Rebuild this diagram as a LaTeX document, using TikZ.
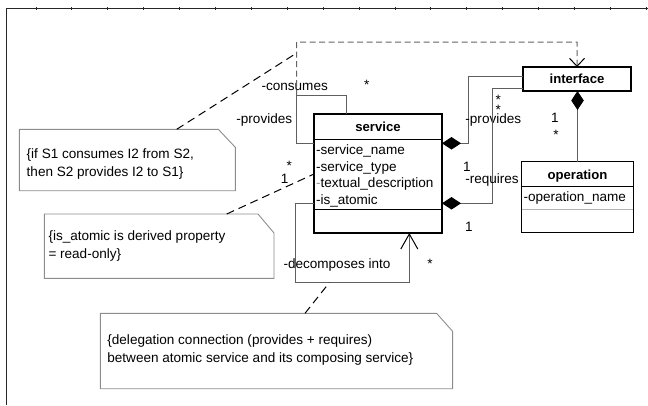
\documentclass[tikz,border=0pt]{standalone}
\usepackage{fontspec}
\setmainfont{Liberation Sans}
\usetikzlibrary{arrows.meta,calc}
\definecolor{lnk}{RGB}{95,95,95}
\definecolor{notec}{RGB}{140,140,140}
\definecolor{depc}{RGB}{100,100,100}
\begin{document}
\begin{tikzpicture}[x=1bp,y=-1bp,
  every node/.style={inner sep=0pt, outer sep=0pt, font=\fontsize{13.6}{18}\selectfont},
  classbox/.style={draw=black, line width=1.2bp, anchor=north west},
  hdr/.style={anchor=base, font=\fontsize{13.2}{16}\selectfont\bfseries},
  attr/.style={anchor=base west},
  lbl/.style={anchor=base},
  starlbl/.style={anchor=base, text height=7bp},
  notebox/.style={anchor=north west},
  noteline/.style={draw=notec, line width=0.9bp},
  notetext/.style={anchor=north west, align=left},
  assoc/.style={draw=lnk, line width=1bp},
  comp/.style={assoc, -{Diamond[length=19bp,width=12.5bp,color=black,fill=black]}},
  depend/.style={draw=depc, line width=1bp, dash pattern=on 6bp off 3.5bp, -{Straight Barb[length=8bp,width=15bp,color=black]}},
  anchorln/.style={draw=black, line width=1bp, dash pattern=on 8bp off 5bp},
]
\useasboundingbox (0,0) rectangle (648,405);

% frame
\draw[line width=1.6bp, black!85] (6.5,405) -- (6.5,8.5) -- (648,8.5);
\foreach \k in {1,...,18} \draw[line width=0.8bp, black!85] (35.9*\k,7) -- (35.9*\k,9.5);

% service class
\node[classbox, minimum width=128bp, minimum height=119bp] (service) at (314,114) {};
\node[hdr] (serviceT) at (378,131.5) {service};
\draw[line width=1.2bp] (service.west |- 0,139.3) -- (service.east |- 0,139.3);
\draw[line width=1.2bp] (service.west |- 0,209.3) -- (service.east |- 0,209.3);
\node[attr] (sa1) at (316,154.5) {-service\_name};
\node[attr] (sa2) at (316,171) {-service\_type};
\node[attr] (sa3) at (316,187.5) {{\color{black!40}-}textual\_description};
\node[attr] (sa4) at (316,204) {-is\_atomic};

% interface class
\node[classbox, minimum width=108bp, minimum height=24bp, font=\fontsize{13.2}{16}\selectfont\bfseries] (interface) at (523,67) {interface};

% operation class
\node[classbox, minimum width=111.6bp, minimum height=70.6bp] (operation) at (521.7,161.7) {};
\node[hdr] (operationT) at (577.5,179) {operation};
\draw[line width=1.2bp] (operation.west |- 0,186.7) -- (operation.east |- 0,186.7);
\draw[line width=0.8bp, black!30] (operation.west |- 0,209.3) -- (operation.east |- 0,209.3);
\node[attr] (oa1) at (523.5,201.5) {-operation\_name};

% composition interface - operation
\draw[comp] (operation.north) -- (operation.north |- interface.south);
\node[lbl] at (555,122.5) {1};
\node[starlbl] at (556,139) {*};

% provides
\coordinate (pv1) at (468,76);
\coordinate (pv2) at (468,143.3);
\draw[comp] (interface.west |- pv1) -- (pv1) -- (pv2) -- (service.east |- pv2);
\node[lbl] at (493.3,123.5) {-provides};
\node[starlbl] at (498.3,104) {*};
\node[starlbl] at (498.3,114) {*};

% requires
\coordinate (rq1) at (492.7,88.3);
\coordinate (rq2) at (492.7,203.3);
\draw[comp] (interface.west |- rq1) -- (rq1) -- (rq2) -- (service.east |- rq2);
\node[lbl] at (467,171) {1};
\node[lbl] at (492,183) {-requires};
\node[lbl] at (469,231.5) {1};

% consumes / provides loop
\coordinate (cl1) at (346,95.7);
\coordinate (cl2) at (296.7,95.7);
\coordinate (cl3) at (296.7,143.3);
\draw[assoc] (service.north -| cl1) -- (cl1) -- (cl2) -- (cl3) -- (service.west |- cl3);
\node[lbl] at (294.7,90) {-consumes};
\node[starlbl] at (366.7,89) {*};
\node[lbl] at (264.3,123.5) {-provides};

% dependency to interface
\coordinate (dp1) at (296.7,42);
\coordinate (dp2) at (577,42);
\draw[depend] (cl2) -- (dp1) -- (dp2) -- (interface.north);

% decomposes into
\coordinate (dc1) at (295.7,203);
\coordinate (dc2) at (295.7,282.7);
\coordinate (dc3) at (409.3,282.7);
\draw[assoc, -{Straight Barb[length=15bp,width=17bp,color=black]}] (service.west |- dc1) -- (dc1) -- (dc2) -- (dc3) -- (service.south -| dc3);
\node[lbl] at (337,268.5) {-decomposes into};
\node[starlbl] at (430,268.5) {*};

% note 1
\node[notebox, minimum width=216bp, minimum height=61.4bp] (n1) at (19.3,129.3) {};
\draw[noteline] (n1.north west) -- ([xshift=-17bp]n1.north east) -- ([yshift=-18bp]n1.north east) -- (n1.south east) -- (n1.south west) -- cycle;
\node[notetext] (n1t) at (26.7,148.4) {\{if S1 consumes I2 from S2,\\then S2 provides I2 to S1\}};
\coordinate (dpa) at (296.7,53);
\draw[anchorln] ([xshift=157.4bp]n1.north west) -- (dpa);

% note 2
\node[notebox, minimum width=229.7bp, minimum height=64.3bp] (n2) at (44.3,214) {};
\draw[noteline] (n2.north west) -- ([xshift=-16bp]n2.north east) -- ([yshift=-19bp]n2.north east) -- (n2.south east) -- (n2.south west) -- cycle;
\node[notetext] (n2t) at (48.5,230.4) {\{is\_atomic is derived property\\= read-only\}};
\coordinate (sva) at (314,174);
\draw[anchorln] ([xshift=182.4bp]n2.north west) -- (sva);
\node[starlbl] at (289.3,170) {*};
\node[lbl] at (284.7,183) {1};

% note 3
\node[notebox, minimum width=352.2bp, minimum height=75.4bp] (n3) at (100.4,313.3) {};
\draw[noteline] (n3.north west) -- ([xshift=-16bp]n3.north east) -- ([yshift=-18bp]n3.north east) -- (n3.south east) -- (n3.south west) -- cycle;
\node[notetext] (n3t) at (107.4,334.4) {\{delegation connection (provides + requires)\\between atomic service and its composing service\}};
\coordinate (dca) at (329.3,282.7);
\draw[anchorln] ([xshift=204.6bp]n3.north west) -- (dca);
\end{tikzpicture}
\end{document}
